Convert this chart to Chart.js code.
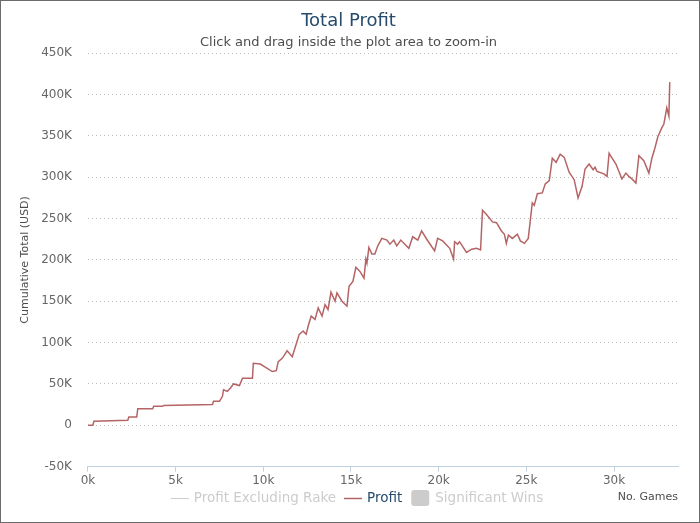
<!DOCTYPE html>
<html>
<head>
<meta charset="utf-8">
<script src="https://cdn.jsdelivr.net/npm/chart.js@4"></script>
<style>
  body { margin: 0; background: #fff; }
  #wrap { width: 700px; height: 523px; box-sizing: border-box; border: 1px solid #6b6b6b; }
</style>
</head>
<body>
<div id="wrap"><canvas id="profitChart" width="698" height="521"></canvas></div>
<script>
// games played (x) and cumulative profit in USD (y)
var games = [0, 280, 340, 2270, 2330, 2780, 2840, 3690, 3750, 4260, 4320, 7100, 7160, 7500, 7670, 7730,
    7950, 8130, 8300, 8640, 8810, 9380, 9430, 9830, 10510, 10740, 10850, 11080, 11360, 11650, 11930,
    12050, 12270, 12440, 12560, 12730, 12950, 13130, 13350, 13520, 13690, 13860, 14090, 14200, 14490,
    14770, 14890, 15110, 15280, 15510, 15740, 15850, 15910, 16020, 16190, 16360, 16530, 16760, 17050,
    17220, 17440, 17610, 17840, 18070, 18300, 18520, 18810, 19030, 19320, 19770, 19940, 20230, 20630,
    20850, 20910, 21080, 21190, 21590, 21880, 22160, 22390, 22500, 22730, 23070, 23300, 23580, 23750,
    23860, 23980, 24200, 24490, 24660, 24890, 25110, 25340, 25450, 25630, 25910, 26080, 26310, 26480,
    26700, 26930, 27160, 27440, 27730, 27950, 28180, 28350, 28580, 28810, 28920, 29030, 29430, 29600,
    29720, 29890, 30110, 30280, 30450, 30680, 30850, 31020, 31250, 31420, 31700, 31990, 32160, 32330,
    32500, 32730, 32840, 33010, 33130, 33180];
var profit = [0, 0, 5000, 6000, 10000, 10000, 20000, 20000, 23000, 23000, 24000, 25000, 29000, 29000, 35000, 43000,
    41000, 45000, 50000, 48000, 57000, 57000, 75000, 74000, 65000, 66000, 77000, 81000, 90000, 83000, 102000,
    110000, 114000, 110000, 120000, 132000, 128000, 142000, 132000, 146000, 140000, 161000, 150000, 160000, 150000,
    144000, 168000, 174000, 191000, 186000, 178000, 201000, 196000, 215000, 207000, 207000, 217000, 226000, 224000,
    219000, 224000, 217000, 224000, 219000, 214000, 228000, 224000, 235000, 225000, 211000, 226000, 223000, 214000,
    201000, 222000, 219000, 222000, 209000, 213000, 214000, 212000, 260000, 255000, 246000, 245000, 235000, 231000,
    220000, 230000, 226000, 231000, 223000, 220000, 226000, 269000, 266000, 280000, 281000, 292000, 296000, 323000,
    318000, 328000, 324000, 306000, 297000, 275000, 289000, 310000, 316000, 309000, 312000, 307000, 304000, 301000,
    329000, 323000, 316000, 307000, 298000, 305000, 301000, 298000, 293000, 326000, 320000, 305000, 323000, 335000,
    349000, 360000, 364000, 384000, 374000, 415000];

var xTicks = [0, 5000, 10000, 15000, 20000, 25000, 30000];
var yTicks = [-50000, 0, 50000, 100000, 150000, 200000, 250000, 300000, 350000, 400000, 450000];

var profitPoints = games.map(function (g, i) { return { x: g, y: profit[i] }; });
var font = 'DejaVu Sans';

// legend drawn by hand so the spacing matches (hidden series are greyed, not struck through)
var legendPlugin = {
    id: 'bottomLegend',
    afterDraw: function (chart) {
        var c = chart.ctx;
        var ds = chart.data.datasets;
        var y = 497;
        c.save();
        c.font = '13.5px ' + font;
        c.textBaseline = 'middle';
        var w = ds.map(function (d) { return c.measureText(d.label).width; });
        var total = 23 + w[0] + 8 + 23 + w[1] + 9 + 24 + w[2];
        var x = 356 - total / 2;
        for (var i = 0; i < ds.length; i++) {
            var hidden = ds[i].data.length === 0;
            var col = hidden ? '#cccccc' : ds[i].borderColor;
            if (i < 2) {
                c.strokeStyle = col;
                c.lineWidth = hidden ? 1 : 1.5;
                c.beginPath();
                c.moveTo(x, y + 0.5);
                c.lineTo(x + 18, y + 0.5);
                c.stroke();
                x += 23;
            } else {
                c.fillStyle = '#cccccc';
                c.beginPath();
                c.roundRect(x, y - 8, 18, 16, 3);
                c.fill();
                x += 24;
            }
            c.fillStyle = hidden ? '#cccccc' : '#274b6d';
            c.textAlign = 'left';
            c.fillText(ds[i].label, x, y);
            x += w[i] + (i === 0 ? 8 : 9);
        }
        c.font = '11px ' + font;
        c.fillStyle = '#4d4d4d';
        c.textAlign = 'right';
        c.fillText('No. Games', chart.chartArea.right, y - 1);
        c.restore();
    }
};

var ctx = document.getElementById('profitChart').getContext('2d');
var myChart = new Chart(ctx, {
    type: 'line',
    data: {
        datasets: [{
            label: 'Profit Excluding Rake',
            data: [],
            borderColor: '#cccccc',
            borderWidth: 1
        }, {
            label: 'Profit',
            data: profitPoints,
            borderColor: '#b56465',
            borderWidth: 1.5,
            pointRadius: 0,
            tension: 0
        }, {
            label: 'Significant Wins',
            data: [],
            borderColor: '#cccccc',
            backgroundColor: '#cccccc'
        }]
    },
    options: {
        responsive: false,
        animation: false,
        layout: { padding: { left: 18, right: 21, top: 6, bottom: 32 } },
        plugins: {
            title: {
                display: true,
                text: 'Total Profit',
                color: '#274b6d',
                font: { family: font, size: 18, weight: 'normal' },
                padding: { top: 4, bottom: 2 }
            },
            subtitle: {
                display: true,
                text: 'Click and drag inside the plot area to zoom-in',
                color: '#4d4d4d',
                font: { family: font, size: 13 },
                padding: { bottom: 3 }
            },
            legend: { display: false },
            tooltip: { enabled: false }
        },
        scales: {
            x: {
                type: 'linear',
                min: 0,
                max: 33650,
                afterBuildTicks: function (axis) { axis.ticks = xTicks.map(function (v) { return { value: v }; }); },
                ticks: {
                    autoSkip: false,
                    color: '#666666',
                    font: { family: font, size: 12 },
                    padding: 2,
                    maxRotation: 0,
                    callback: function (v) { return (v / 1000) + 'k'; }
                },
                grid: { drawOnChartArea: false, drawTicks: true, tickLength: 5, color: '#c0d0e0' },
                border: { display: true, color: '#c0d0e0' }
            },
            y: {
                min: -50000,
                max: 450000,
                afterBuildTicks: function (axis) { axis.ticks = yTicks.map(function (v) { return { value: v }; }); },
                ticks: {
                    color: '#666666',
                    font: { family: font, size: 12 },
                    padding: 16,
                    callback: function (v) { return v === 0 ? '0' : (v / 1000) + 'K'; }
                },
                title: {
                    display: true,
                    text: 'Cumulative Total (USD)',
                    color: '#4d4d4d',
                    font: { family: font, size: 11 },
                    padding: { top: 0, bottom: -7 }
                },
                grid: {
                    drawTicks: false,
                    lineWidth: 1,
                    color: function (c) { return c.tick && c.tick.value === -50000 ? 'rgba(0,0,0,0)' : '#bdbdbd'; }
                },
                border: { display: false, dash: [1, 3] }
            }
        }
    },
    plugins: [legendPlugin]
});
</script>
</body>
</html>
